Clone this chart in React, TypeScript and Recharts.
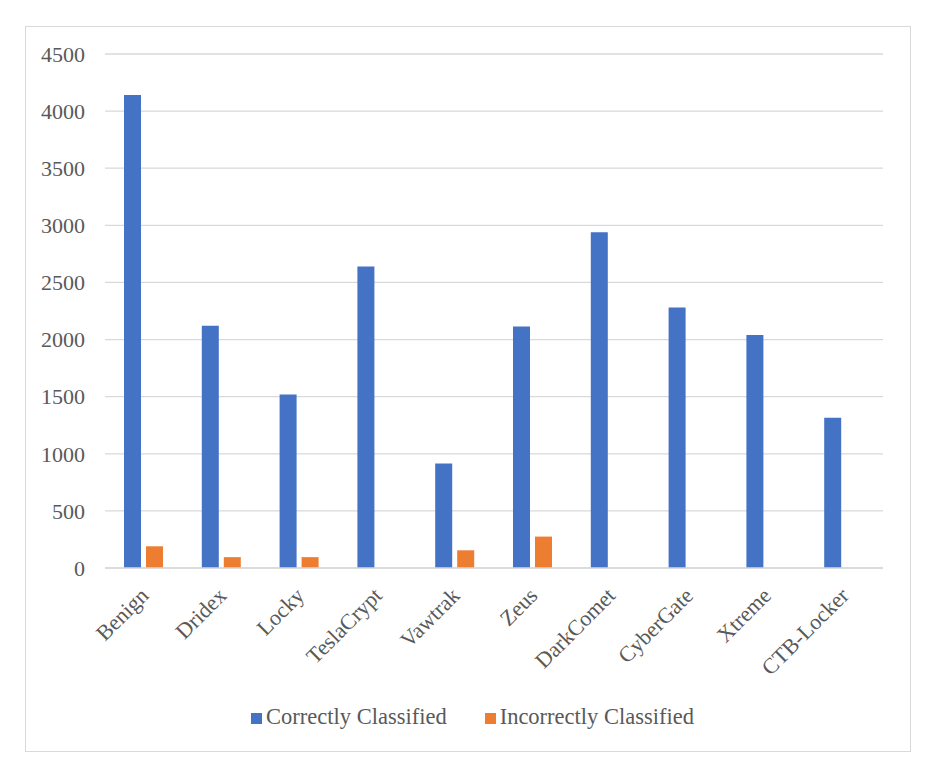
import { BarChart, Bar, XAxis, YAxis, CartesianGrid, Legend } from 'recharts'

// values
const CATEGORIES = ['Benign', 'Dridex', 'Locky', 'TeslaCrypt', 'Vawtrak', 'Zeus', 'DarkComet', 'CyberGate', 'Xtreme', 'CTB-Locker']
const CORRECT = [4140, 2120, 1520, 2640, 915, 2115, 2940, 2280, 2040, 1315]
const INCORRECT = [190, 95, 95, 0, 155, 275, 0, 0, 0, 0]
const Y_TICKS = [0, 500, 1000, 1500, 2000, 2500, 3000, 3500, 4000, 4500]

const data = CATEGORIES.map((name, i) => ({ name, correct: CORRECT[i], incorrect: INCORRECT[i] }))

const FONT = '"Liberation Serif", "Times New Roman", serif'
const TEXT = '#595959'
const GRID = '#d9d9d9'

function XTick({ x, y, payload }: any) {
  return (
    <g transform={`translate(${x + 6},${y + 29})`}>
      <text textAnchor="end" transform="rotate(-45)" fontSize={22} fontFamily={FONT} fill={TEXT}>
        {payload.value}
      </text>
    </g>
  )
}

function LegendBox({ payload }: any) {
  return (
    <div style={{ textAlign: 'center', fontFamily: FONT, fontSize: 22.5, color: TEXT, lineHeight: '25px', height: 25 }}>
      {(payload ?? []).map((p: any, i: number) => (
        <span key={p.value} style={{ display: 'inline-block', marginRight: i === 0 ? 38 : 0 }}>
          <span style={{ display: 'inline-block', width: 11, height: 11, background: p.color, marginRight: 4 }} />
          {p.value}
        </span>
      ))}
    </div>
  )
}

export default function App() {
  return (
    <div style={{ marginLeft: 17, marginTop: 18, width: 886, height: 726, border: `1px solid ${GRID}`, boxSizing: 'border-box', background: '#fff' }}>
      <BarChart width={884} height={724} data={data} margin={{ top: 27, right: 27, bottom: 22, left: 0 }} barSize={17} barGap={5}>
        <CartesianGrid vertical={false} stroke={GRID} strokeWidth={1.3} />
        <XAxis
          dataKey="name"
          interval={0}
          height={136}
          tick={<XTick />}
          tickLine={false}
          tickSize={0}
          tickMargin={0}
          axisLine={{ stroke: GRID, strokeWidth: 1.3 }}
        />
        <YAxis
          width={79}
          domain={[0, 4500]}
          ticks={Y_TICKS}
          axisLine={false}
          tickLine={false}
          tickSize={0}
          tickMargin={20}
          tick={{ fill: TEXT, fontSize: 22, fontFamily: FONT }}
        />
        <Legend verticalAlign="bottom" content={<LegendBox />} wrapperStyle={{ left: 0, width: 893 }} />
        <Bar dataKey="correct" name="Correctly Classified" fill="#4472c4" isAnimationActive={false} />
        <Bar dataKey="incorrect" name="Incorrectly Classified" fill="#ed7d31" isAnimationActive={false} />
      </BarChart>
    </div>
  )
}
